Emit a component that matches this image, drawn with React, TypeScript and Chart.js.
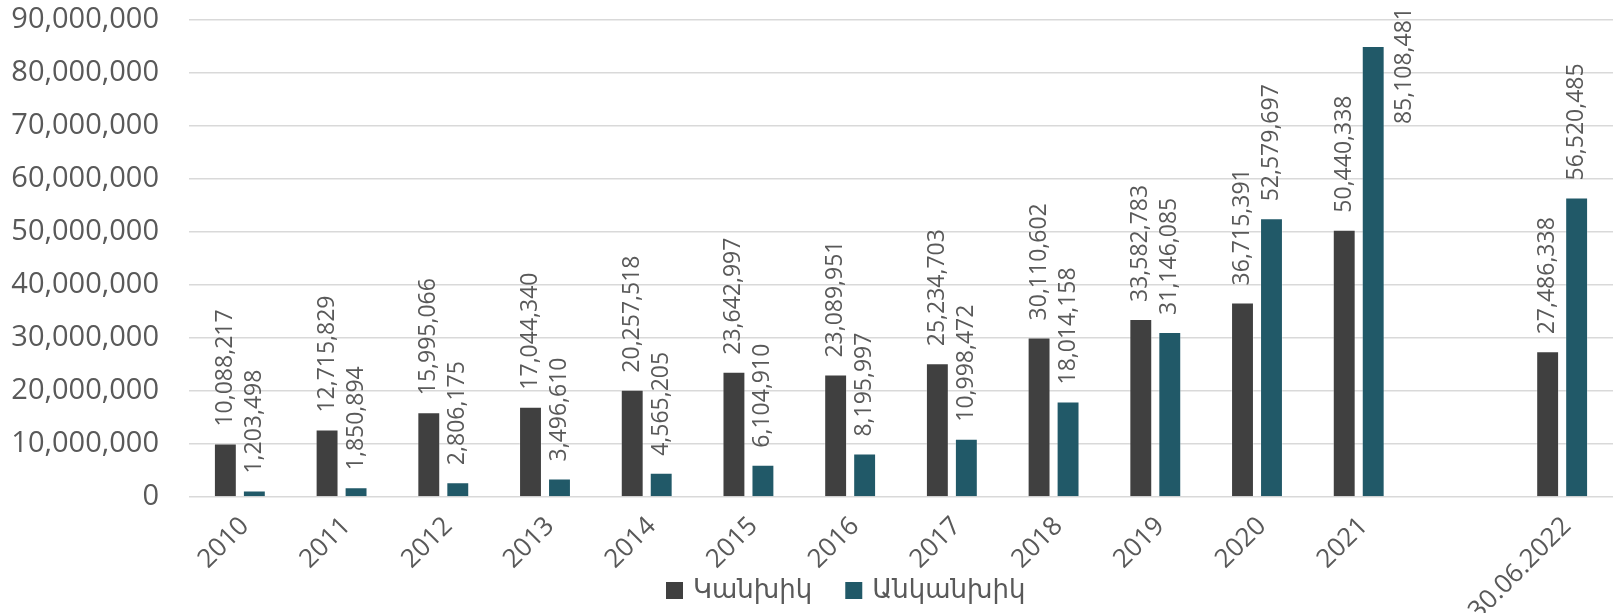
import React, { useEffect, useRef } from "react";
import { Chart, registerables } from "chart.js";

Chart.register(...registerables);

const categories = ["2010", "2011", "2012", "2013", "2014", "2015", "2016", "2017", "2018", "2019", "2020", "2021", "", "30.06.2022"];
const cashValues = [10088217, 12715829, 15995066, 17044340, 20257518, 23642997, 23089951, 25234703, 30110602, 33582783, 36715391, 50440338, null, 27486338];
const nonCashValues = [1203498, 1850894, 2806175, 3496610, 4565205, 6104910, 8195997, 10998472, 18014158, 31146085, 52579697, 85108481, null, 56520485];
const seriesNames = ["Կանխիկ", "Անկանխիկ"];
const seriesColors = ["#404040", "#215968"];
const yMax = 90000000;
const yStep = 10000000;

const FONT = "'Open Sans', 'DejaVu Sans', sans-serif";
const TEXT = "#595959";

const fmt = (v: number) => v.toLocaleString("en-US");

const labelPlugin = {
  id: "barLabels",
  afterDatasetsDraw(chart: any) {
    const ctx = chart.ctx;
    ctx.save();
    ctx.font = `23px ${FONT}`;
    ctx.fillStyle = TEXT;
    ctx.textBaseline = "middle";
    chart.data.datasets.forEach((ds: any, di: number) => {
      const meta = chart.getDatasetMeta(di);
      meta.data.forEach((bar: any, i: number) => {
        const v = ds.data[i];
        if (v == null) return;
        const text = fmt(v);
        const w = ctx.measureText(text).width;
        let x = bar.x;
        let yStart = bar.y - 17;
        if (yStart - w < 5) {
          x = bar.x + bar.width / 2 + 20;
          yStart = 7 + w;
        }
        ctx.save();
        ctx.translate(x, yStart);
        ctx.rotate(-Math.PI / 2);
        ctx.textAlign = "left";
        ctx.fillText(text, 0, 0);
        ctx.restore();
      });
    });
    ctx.restore();
  },
};

const legendPlugin = {
  id: "customLegend",
  afterDraw(chart: any) {
    const ctx = chart.ctx;
    ctx.save();
    ctx.font = `26px ${FONT}`;
    ctx.textBaseline = "middle";
    ctx.textAlign = "left";
    let x = 666;
    const y = 591;
    seriesNames.forEach((name, i) => {
      ctx.fillStyle = seriesColors[i];
      ctx.fillRect(x, y - 9, 17, 17);
      ctx.fillStyle = TEXT;
      ctx.fillText(name, x + 27, y);
      x += 27 + ctx.measureText(name).width + 33;
    });
    ctx.restore();
  },
};

export default function App() {
  const ref = useRef<HTMLCanvasElement>(null);
  useEffect(() => {
    document.body.style.margin = "0";
    const chart = new Chart(ref.current as HTMLCanvasElement, {
      type: "bar",
      data: {
        labels: categories,
        datasets: [
          {
            label: seriesNames[0],
            data: cashValues,
            backgroundColor: seriesColors[0],
            borderColor: "rgba(255,255,255,0.3)",
            borderWidth: 1,
            categoryPercentage: 0.57,
            barPercentage: 0.79,
          },
          {
            label: seriesNames[1],
            data: nonCashValues,
            backgroundColor: seriesColors[1],
            borderColor: "rgba(255,255,255,0.3)",
            borderWidth: 1,
            categoryPercentage: 0.57,
            barPercentage: 0.79,
          },
        ],
      },
      options: {
        animation: false,
        responsive: false,
        maintainAspectRatio: false,
        layout: { padding: { top: 20, right: 7, left: 0, bottom: 0 } },
        plugins: { legend: { display: false }, tooltip: { enabled: false } },
        scales: {
          x: {
            grid: { display: false, drawTicks: false },
            border: { display: false },
            ticks: {
              autoSkip: false,
              minRotation: 45,
              maxRotation: 45,
              padding: 14,
              labelOffset: 5,
              color: TEXT,
              font: { family: FONT, size: 26 },
            },
            afterFit(scale: any) {
              scale.height = 116;
              scale.paddingTop = 0;
              scale.paddingBottom = 0;
              scale.paddingLeft = 0;
              scale.paddingRight = 0;
            },
          },
          y: {
            min: 0,
            max: yMax,
            grid: { color: "#d9d9d9", lineWidth: 1.5, drawTicks: false },
            border: { display: false },
            ticks: {
              stepSize: yStep,
              padding: 30,
              color: TEXT,
              font: { family: FONT, size: 29 },
              callback: (v: any) => fmt(Number(v)),
            },
            afterFit(scale: any) {
              scale.width = 189;
              scale.paddingTop = 0;
              scale.paddingBottom = 0;
            },
          },
        },
      },
      plugins: [labelPlugin, legendPlugin],
    });
    return () => chart.destroy();
  }, []);
  return (
    <div style={{ width: 1620, height: 613 }}>
      <canvas ref={ref} width={1620} height={613} style={{ display: "block" }} />
    </div>
  );
}
